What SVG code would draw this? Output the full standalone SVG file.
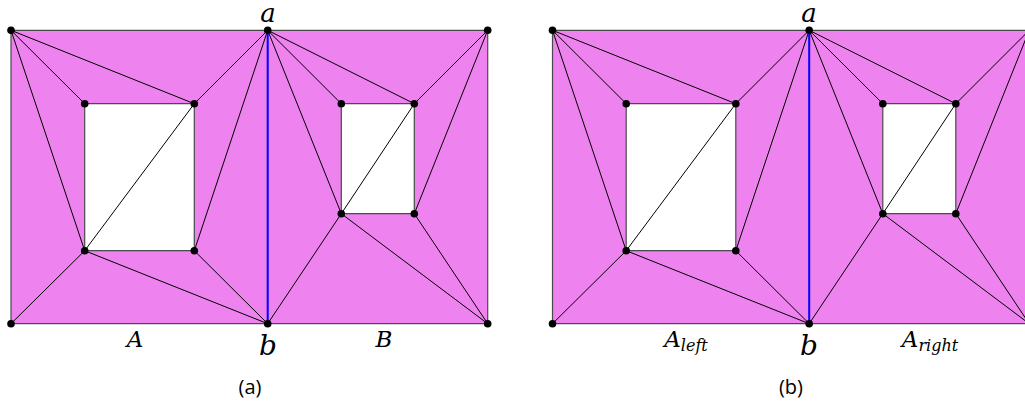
<svg xmlns="http://www.w3.org/2000/svg" width="1025" height="405" viewBox="0 0 1025 405">
<defs>
<style>
.reg{fill:#EE82EE;fill-rule:evenodd;stroke:#4a4a4a;stroke-width:1.2}
.e{stroke:#000;stroke-width:1;fill:none}
.cut{stroke:#0000ff;stroke-width:2;fill:none}
.v{fill:#000}
.m{font-family:"DejaVu Serif","Liberation Serif",serif;font-style:italic;fill:#000;text-anchor:middle}
.cap{font-family:"Open Sans","Liberation Sans",sans-serif;font-size:20px;fill:#000;text-anchor:middle}
</style>
<g id="panel">
<path class="reg" d="M11,30.3H487.7V323.7H11Z M84.7,103.7H194.3V250.7H84.7Z M341.3,103.7H414.3V213.7H341.3Z"/>
<g class="edges">
<line class="e" x1="11" y1="30.3" x2="84.7" y2="103.7"/>
<line class="e" x1="11" y1="30.3" x2="194.3" y2="103.7"/>
<line class="e" x1="11" y1="30.3" x2="84.7" y2="250.7"/>
<line class="e" x1="11" y1="323.7" x2="84.7" y2="250.7"/>
<line class="e" x1="267.7" y1="323.7" x2="84.7" y2="250.7"/>
<line class="e" x1="267.7" y1="323.7" x2="194.3" y2="250.7"/>
<line class="e" x1="267.7" y1="30.3" x2="194.3" y2="103.7"/>
<line class="e" x1="267.7" y1="30.3" x2="194.3" y2="250.7"/>
<line class="e" x1="84.7" y1="250.7" x2="194.3" y2="103.7"/>
<line class="e" x1="267.7" y1="30.3" x2="341.3" y2="103.7"/>
<line class="e" x1="267.7" y1="30.3" x2="414.3" y2="103.7"/>
<line class="e" x1="267.7" y1="30.3" x2="341.3" y2="213.7"/>
<line class="e" x1="267.7" y1="323.7" x2="341.3" y2="213.7"/>
<line class="e" x1="487.7" y1="30.3" x2="414.3" y2="103.7"/>
<line class="e" x1="487.7" y1="30.3" x2="414.3" y2="213.7"/>
<line class="e" x1="487.7" y1="323.7" x2="414.3" y2="213.7"/>
<line class="e" x1="487.7" y1="323.7" x2="341.3" y2="213.7"/>
<line class="e" x1="341.3" y1="213.7" x2="414.3" y2="103.7"/>
<line class="cut" x1="267.7" y1="30.3" x2="267.7" y2="323.7"/>
</g>
<g class="verts">
<circle class="v" cx="11" cy="30.3" r="3.8"/>
<circle class="v" cx="267.7" cy="30.3" r="3.8"/>
<circle class="v" cx="487.7" cy="30.3" r="3.8"/>
<circle class="v" cx="11" cy="323.7" r="3.8"/>
<circle class="v" cx="267.7" cy="323.7" r="3.8"/>
<circle class="v" cx="487.7" cy="323.7" r="3.8"/>
<circle class="v" cx="84.7" cy="103.7" r="3.8"/>
<circle class="v" cx="194.3" cy="103.7" r="3.8"/>
<circle class="v" cx="84.7" cy="250.7" r="3.8"/>
<circle class="v" cx="194.3" cy="250.7" r="3.8"/>
<circle class="v" cx="341.3" cy="103.7" r="3.8"/>
<circle class="v" cx="414.3" cy="103.7" r="3.8"/>
<circle class="v" cx="341.3" cy="213.7" r="3.8"/>
<circle class="v" cx="414.3" cy="213.7" r="3.8"/>
</g>
</g>
</defs>
<g id="diagram-a">
<use href="#panel"/>
<text class="m" x="268" y="22" font-size="26">a</text>
<text class="m" x="268" y="355" font-size="28">b</text>
<text class="m" x="135" y="347" font-size="23">A</text>
<text class="m" x="384" y="347" font-size="23">B</text>
<text class="cap" x="250" y="394">(a)</text>
</g>
<g id="diagram-b">
<use href="#panel" transform="translate(541.5,0)"/>
<text class="m" x="809" y="22" font-size="26">a</text>
<text class="m" x="809" y="355" font-size="28">b</text>
<text class="m" x="686" y="347" font-size="23">A<tspan font-size="16" dy="4">left</tspan></text>
<text class="m" x="930" y="347" font-size="23">A<tspan font-size="16" dy="4">right</tspan></text>
<text class="cap" x="791" y="394">(b)</text>
</g>
</svg>
